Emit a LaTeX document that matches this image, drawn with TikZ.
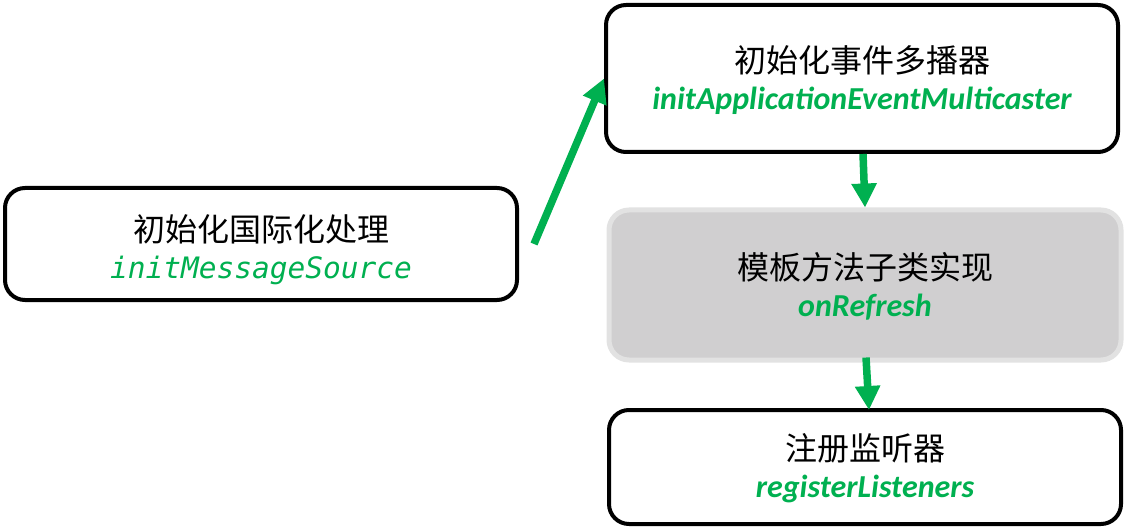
\documentclass[tikz,border=0pt]{standalone}
\usepackage{fontspec}
\newfontfamily\cjk{Noto Sans CJK SC}
\newfontfamily\monoit{DejaVu Sans Mono Oblique}
\newfontfamily\calit{Carlito}
\usetikzlibrary{arrows.meta}
\definecolor{mygreen}{HTML}{00B050}
\definecolor{grayfill}{HTML}{D0CFD0}
\definecolor{grayline}{HTML}{E2E2E2}
\tikzset{
  box/.style={draw=black, line width=4pt, rounded corners=20pt, fill=white,
    minimum width=512pt, align=center, inner sep=0pt,
    font=\cjk\fontsize{32}{37}\selectfont},
  graybox/.style={box, draw=grayline, fill=grayfill, line width=5pt},
  arr/.style={draw=mygreen, line width=7.5pt, -{Triangle[length=24pt,width=24pt]}},
}
\newcommand{\gc}[1]{{\color{mygreen}\calit\bfseries\itshape\fontsize{32}{37}\selectfont #1}}
\newcommand{\gm}[1]{{\color{mygreen}\monoit\fontsize{29.5}{37}\selectfont #1}}
\begin{document}
\begin{tikzpicture}[x=1pt,y=-1pt]
\useasboundingbox (0,0) rectangle (1126,529);
\node[box, minimum height=112pt] (b1) at (261,244) {\rule{0pt}{38pt}初始化国际化处理\\\gm{initMessageSource}};
\node[box, minimum height=147pt] (b2) at (862,78.5) {\rule{0pt}{30pt}初始化事件多播器\\\gc{initApplicationEventMulticaster}};
\node[graybox, minimum height=150pt] (b3) at (865,285) {\rule{0pt}{30pt}模板方法子类实现\\\gc{onRefresh}};
\node[box, minimum height=114pt] (b4) at (865,467) {\rule{0pt}{30pt}注册监听器\\\gc{registerListeners}};
\draw[arr] ([xshift=15pt]b1.east) -- (b2.west);
\draw[arr] ([xshift=1pt]b2.south) -- (b3.north);
\draw[arr] ([xshift=1pt,yshift=5pt]b3.south) -- ([xshift=4pt,yshift=-2pt]b4.north);
\end{tikzpicture}
\end{document}
